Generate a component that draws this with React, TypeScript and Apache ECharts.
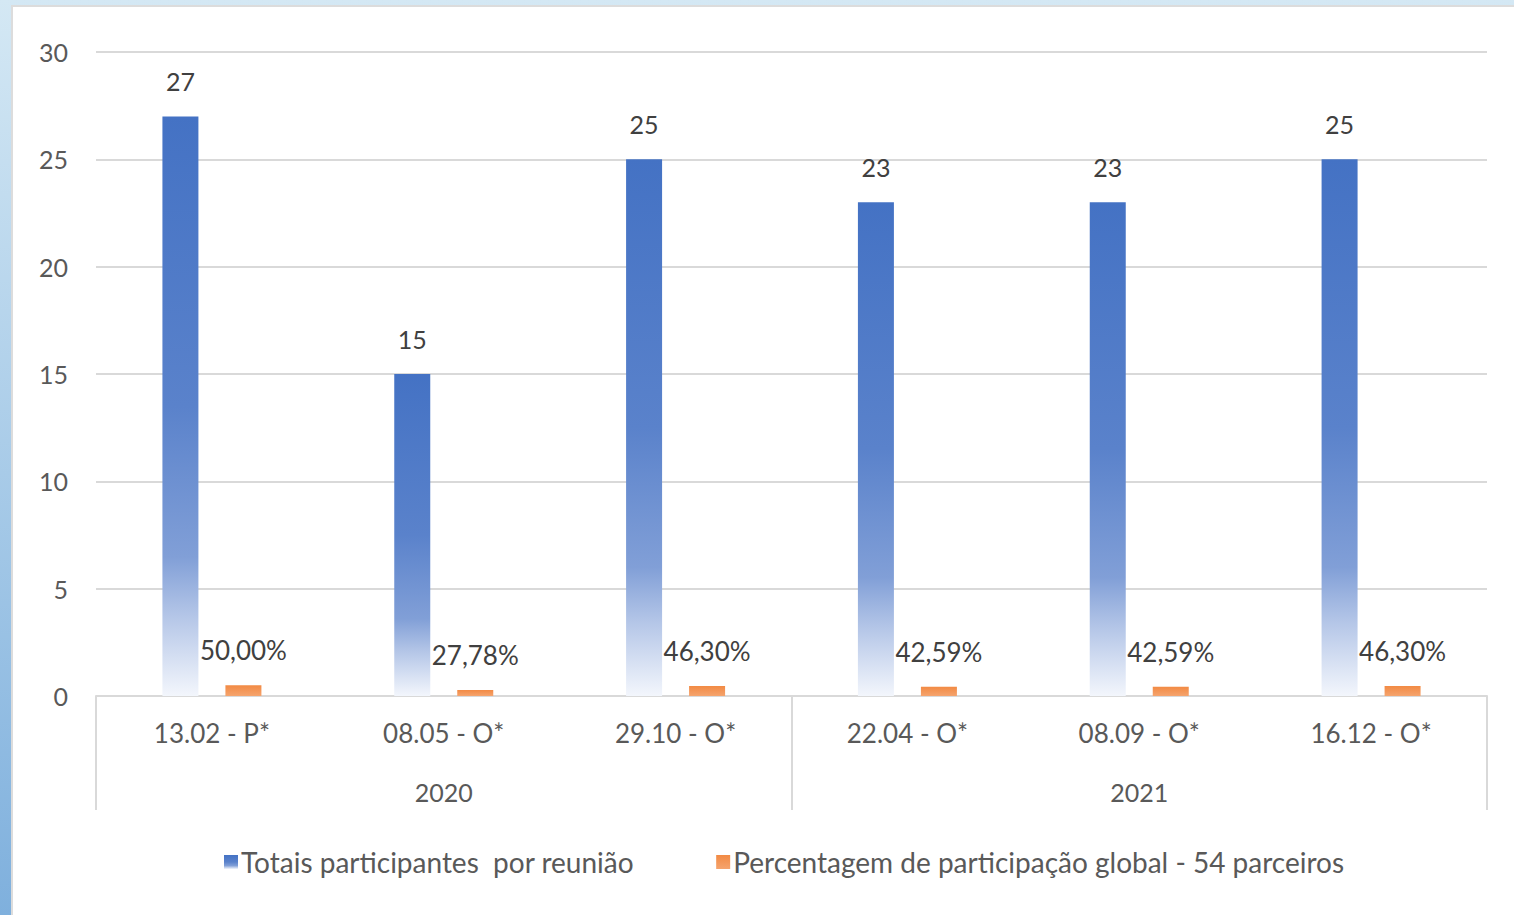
import React, { useEffect, useRef } from "react";
import * as echarts from "echarts";

const categories = ["13.02 - P*", "08.05 - O*", "29.10 - O*", "22.04 - O*", "08.09 - O*", "16.12 - O*"];
const years = ["2020", "2021"];
const participantes = [27, 15, 25, 23, 23, 25];
const percentagens = [0.5, 0.2778, 0.463, 0.4259, 0.4259, 0.463];
const seriesNames = ["Totais participantes  por reunião", "Percentagem de participação global - 54 parceiros"];
const yTicks = { min: 0, max: 30, interval: 5 };

const FONT = "Lato";
const TXT = "#595959";
const GRID = "#d9d9d9";

export default function App() {
  const ref = useRef<HTMLDivElement>(null);
  useEffect(() => {
    if (!ref.current) return;
    const chart = echarts.init(ref.current, undefined, { renderer: "svg" });
    const blue = new echarts.graphic.LinearGradient(0, 0, 0, 1, [
      { offset: 0, color: "#4472C4" },
      { offset: 0.5, color: "#5A82CB" },
      { offset: 0.76, color: "#819FD7" },
      { offset: 0.86, color: "#B3C5E7" },
      { offset: 1, color: "#F3F6FC" },
    ]);
    const orange = new echarts.graphic.LinearGradient(0, 0, 0, 1, [
      { offset: 0, color: "#F28A44" },
      { offset: 1, color: "#F5A46E" },
    ]);
    chart.setOption({
      animation: false,
      textStyle: { fontFamily: FONT },
      grid: { left: 96, right: 27, top: 52, bottom: 219, containLabel: false },
      legend: {
        left: 219,
        top: 843,
        itemWidth: 14,
        itemHeight: 14,
        itemGap: 82,
        icon: "rect",
        textStyle: { color: TXT, fontSize: 28, fontFamily: FONT, padding: [0, 0, 0, -2] },
        data: seriesNames,
      },
      xAxis: [
        {
          type: "category",
          data: categories,
          position: "bottom",
          axisLine: { show: true, lineStyle: { color: GRID, width: 2 } },
          axisTick: { show: false },
          axisLabel: { color: TXT, fontSize: 26, margin: 24, fontFamily: FONT },
        },
        {
          type: "category",
          data: years,
          position: "bottom",
          axisLine: { show: false },
          axisTick: { show: true, length: 114, lineStyle: { color: GRID, width: 2 } },
          axisLabel: { color: TXT, fontSize: 25, margin: 83, fontFamily: FONT },
        },
      ],
      yAxis: {
        type: "value",
        min: yTicks.min,
        max: yTicks.max,
        interval: yTicks.interval,
        axisLine: { show: false },
        axisTick: { show: false },
        axisLabel: { color: TXT, fontSize: 25, margin: 28, fontFamily: FONT },
        splitLine: { lineStyle: { color: GRID, width: 2 } },
      },
      series: [
        {
          name: seriesNames[0],
          type: "bar",
          xAxisIndex: 0,
          data: participantes,
          barWidth: 36,
          barGap: "75%",
          itemStyle: { color: blue },
          label: {
            show: true,
            position: "top",
            distance: 23,
            color: "#404040",
            fontSize: 25,
            fontFamily: FONT,
          },
        },
        {
          name: seriesNames[1],
          type: "bar",
          xAxisIndex: 0,
          data: percentagens,
          barWidth: 36,
          itemStyle: { color: orange },
          label: {
            show: true,
            position: "top",
            distance: 22,
            color: "#404040",
            fontSize: 26,
            fontFamily: FONT,
            formatter: (p: any) => (p.value * 100).toFixed(2).replace(".", ",") + "%",
          },
        },
      ],
    });
    return () => chart.dispose();
  }, []);

  return (
    <div style={{ position: "fixed", left: 0, top: 0, width: 1514, height: 915, background: "linear-gradient(to bottom, #d4e8f4, #7fb0dd)" }}>
      <div
        style={{
          position: "absolute",
          left: 11,
          top: 5,
          width: 1503,
          height: 910,
          background: "#ffffff",
          borderLeft: "2px solid #dcdcdc",
          borderTop: "2px solid #dcdcdc",
          boxSizing: "border-box",
        }}
      />
      <div ref={ref} style={{ position: "absolute", left: 0, top: 0, width: 1514, height: 915 }} />
    </div>
  );
}
